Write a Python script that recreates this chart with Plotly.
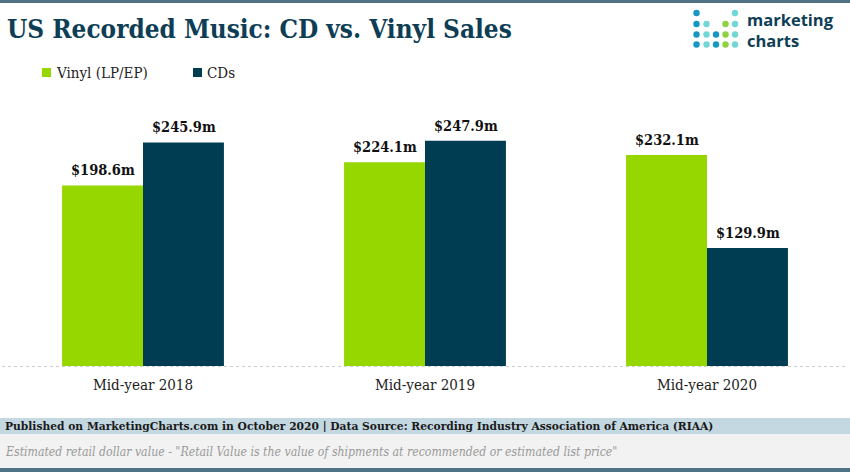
import plotly.graph_objects as go

categories = ["Mid-year 2018", "Mid-year 2019", "Mid-year 2020"]
vinyl = [198.6, 224.1, 232.1]
cds = [245.9, 247.9, 129.9]
series_names = ["Vinyl (LP/EP)", "CDs"]

W, H = 850, 472
VINYL_C = "#97d700"
CD_C = "#003d52"
DARK = "#0e3e55"
SERIF = "DejaVu Serif Condensed, DejaVu Serif, serif"

def px(x):
    return x / W

def py(y):
    return 1 - y / H

fig = go.Figure()
for name, vals, col in [(series_names[0], vinyl, VINYL_C), (series_names[1], cds, CD_C)]:
    fig.add_trace(go.Bar(
        x=categories, y=vals, name=name, marker=dict(color=col, line=dict(width=0)),
        showlegend=False, hoverinfo="skip",
    ))

shapes = []
annotations = []

# value labels placed via data coordinates
BAR_HALF = 40.5
for vals, shift in [(vinyl, -BAR_HALF), (cds, BAR_HALF)]:
    for cat, v in zip(categories, vals):
        annotations.append(dict(x=cat, y=v, xref="x", yref="y", text=f"<b>${v:.1f}m</b>",
                                showarrow=False, xshift=shift, yshift=5, yanchor="bottom",
                                xanchor="center",
                                font=dict(family=SERIF, size=14.5, color="#111111")))

# top and bottom borders
shapes.append(dict(type="rect", xref="paper", yref="paper", x0=0, x1=1, y0=py(3), y1=1,
                   fillcolor="#4f7384", line=dict(width=0), layer="below"))
# footer bands
shapes.append(dict(type="rect", xref="paper", yref="paper", x0=0, x1=1, y0=py(434), y1=py(418),
                   fillcolor="#c4d8e2", line=dict(width=0), layer="below"))
shapes.append(dict(type="rect", xref="paper", yref="paper", x0=0, x1=1, y0=py(468), y1=py(434),
                   fillcolor="#f2f2f2", line=dict(width=0), layer="below"))
shapes.append(dict(type="rect", xref="paper", yref="paper", x0=0, x1=1, y0=0, y1=py(468),
                   fillcolor="#4f7384", line=dict(width=0), layer="below"))
# baseline
shapes.append(dict(type="line", xref="paper", yref="paper", x0=px(2), x1=px(848), y0=py(366.5), y1=py(366.5),
                   line=dict(color="#cccccc", width=1, dash="dot")))

# title
annotations.append(dict(text="<b>US Recorded Music: CD vs. Vinyl Sales</b>", xref="paper", yref="paper",
                        x=px(5), y=py(29), xanchor="left", yanchor="middle", showarrow=False,
                        font=dict(family=SERIF, size=25.9, color=DARK)))

# legend (custom)
for i, (name, col) in enumerate(zip(series_names, [VINYL_C, CD_C])):
    x0 = [42, 193][i]
    shapes.append(dict(type="rect", xref="paper", yref="paper", x0=px(x0), x1=px(x0 + 9),
                       y0=py(77), y1=py(68), fillcolor=col, line=dict(width=0)))
    annotations.append(dict(text=name, xref="paper", yref="paper", x=px(x0 + 12), y=py(73),
                            xanchor="left", yanchor="middle", showarrow=False,
                            font=dict(family=SERIF, size=15, color="#222222")))

# logo dots
BLUE, TEAL, GREEN = "#1497c2", "#72d7d4", "#8fd13f"
cols_x = [696.5, 706.5, 716, 725.5, 735]
rows_y = [13, 24, 34.5, 44.5]
grid = [
    [BLUE, None, None, None, TEAL],
    [BLUE, TEAL, None, GREEN, TEAL],
    [BLUE, TEAL, BLUE, GREEN, TEAL],
    [BLUE, TEAL, BLUE, GREEN, TEAL],
]
r = 3.2
for ri, row in enumerate(grid):
    for ci, c in enumerate(row):
        if c is None:
            continue
        cx, cy = cols_x[ci], rows_y[ri]
        shapes.append(dict(type="circle", xref="paper", yref="paper",
                           x0=px(cx - r), x1=px(cx + r), y0=py(cy + r), y1=py(cy - r),
                           fillcolor=c, line=dict(width=0)))
annotations.append(dict(text="<b>marketing</b><br><b>charts</b>", xref="paper", yref="paper",
                        x=px(746), y=py(30.5), xanchor="left", yanchor="middle", align="left",
                        showarrow=False, borderpad=0,
                        font=dict(family="Open Sans, sans-serif", size=16.5, color=DARK)))

# footer text
annotations.append(dict(text="<b>Published on MarketingCharts.com in October 2020 | Data Source: Recording Industry Association of America (RIAA)</b>",
                        xref="paper", yref="paper", x=px(3), y=py(426), xanchor="left", yanchor="middle",
                        showarrow=False, font=dict(family=SERIF, size=11.9, color="#1a1a1a")))
annotations.append(dict(text="<i>Estimated retail dollar value - \"Retail Value is the value of shipments at recommended or estimated list price\"</i>",
                        xref="paper", yref="paper", x=px(3), y=py(452), xanchor="left", yanchor="middle",
                        showarrow=False, font=dict(family="DejaVu Serif Condensed, DejaVu Serif, serif",
                                                   size=12.2, color="#999999", style="italic")))

fig.update_layout(
    width=W, height=H,
    margin=dict(l=0, r=0, t=0, b=0),
    paper_bgcolor="white", plot_bgcolor="white",
    barmode="group", bargap=0.426, bargroupgap=0,
    xaxis=dict(domain=[px(2), px(848)], range=[-0.5, 2.5], showgrid=False, zeroline=False,
               showline=False, ticks="", ticklabelstandoff=8, fixedrange=True,
               tickfont=dict(family=SERIF, size=15, color="#222222")),
    yaxis=dict(domain=[py(366), py(100)], range=[0, 266 / 0.909], showgrid=False, zeroline=False,
               showticklabels=False, showline=False, fixedrange=True),
    shapes=shapes, annotations=annotations,
)

fig.write_html("out.html", config={"displayModeBar": False},
               post_script="document.body.style.margin='0';document.body.style.overflow='hidden';")
